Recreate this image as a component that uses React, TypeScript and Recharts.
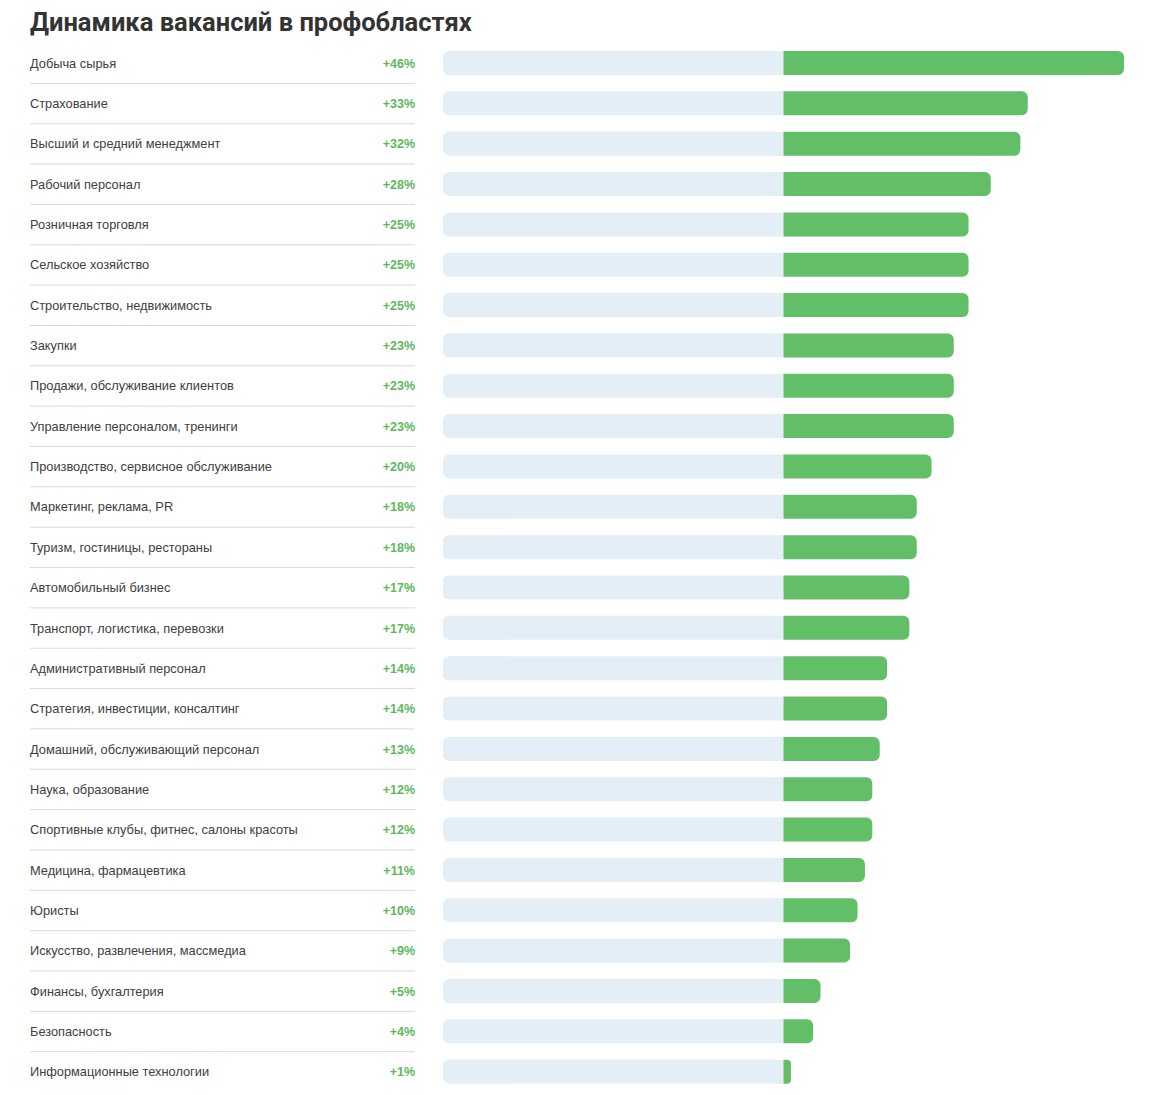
import { BarChart, Bar, XAxis, YAxis } from "recharts";

const CATEGORIES = [
  "Добыча сырья",
  "Страхование",
  "Высший и средний менеджмент",
  "Рабочий персонал",
  "Розничная торговля",
  "Сельское хозяйство",
  "Строительство, недвижимость",
  "Закупки",
  "Продажи, обслуживание клиентов",
  "Управление персоналом, тренинги",
  "Производство, сервисное обслуживание",
  "Маркетинг, реклама, PR",
  "Туризм, гостиницы, рестораны",
  "Автомобильный бизнес",
  "Транспорт, логистика, перевозки",
  "Административный персонал",
  "Стратегия, инвестиции, консалтинг",
  "Домашний, обслуживающий персонал",
  "Наука, образование",
  "Спортивные клубы, фитнес, салоны красоты",
  "Медицина, фармацевтика",
  "Юристы",
  "Искусство, развлечения, массмедиа",
  "Финансы, бухгалтерия",
  "Безопасность",
  "Информационные технологии",
];

const GROWTH = [46, 33, 32, 28, 25, 25, 25, 23, 23, 23, 20, 18, 18, 17, 17, 14, 14, 13, 12, 12, 11, 10, 9, 5, 4, 1];

const TRACK = -46;

const data = CATEGORIES.map((name, i) => ({ name, track: TRACK, value: GROWTH[i] }));

const GREEN = "#62be67";
const TEXT_GREEN = "#5cb85c";
const TRACK_COLOR = "#e4eef6";
const LABEL_FONT = "'Liberation Sans', Arial, sans-serif";

function RowTick({ y, payload, index }: any) {
  const v = GROWTH[index];
  const last = index === CATEGORIES.length - 1;
  return (
    <g>
      <text x={30} y={y} dy={4.5} fontSize={12.8} fill="#404040" fontFamily={LABEL_FONT}>
        {payload.value}
      </text>
      <text x={415} y={y} dy={4.5} fontSize={12.5} fontWeight="bold" textAnchor="end" fill={TEXT_GREEN} fontFamily={LABEL_FONT}>
        {`+${v}%`}
      </text>
      {!last && <line x1={30} x2={415} y1={y + 20.2} y2={y + 20.2} stroke="#d9d9d9" strokeWidth={1} />}
    </g>
  );
}

export default function App() {
  return (
    <div style={{ position: "absolute", left: 0, top: 0, width: 1158, height: 1095, background: "#fff" }}>
      <div
        style={{
          position: "absolute", left: 30, top: 6, fontFamily: "Roboto, 'Open Sans', sans-serif",
          fontWeight: 700, fontSize: 25.5, color: "#333", lineHeight: "32px",
        }}
      >
        Динамика вакансий в профобластях
      </div>
      <BarChart
        width={1158}
        height={1095}
        data={data}
        layout="vertical"
        stackOffset="sign"
        margin={{ top: 43, right: 34, bottom: 3, left: 0 }}
        barSize={24}
      >
        <XAxis type="number" domain={[-46, 46]} hide />
        <YAxis
          type="category"
          dataKey="name"
          width={443}
          axisLine={false}
          tickLine={false}
          tick={<RowTick />}
          interval={0}
        />
        <Bar dataKey="track" stackId="a" fill={TRACK_COLOR} radius={[0, 6, 6, 0]} isAnimationActive={false} />
        <Bar dataKey="value" stackId="a" fill={GREEN} radius={[0, 6, 6, 0]} isAnimationActive={false} />
      </BarChart>
    </div>
  );
}
